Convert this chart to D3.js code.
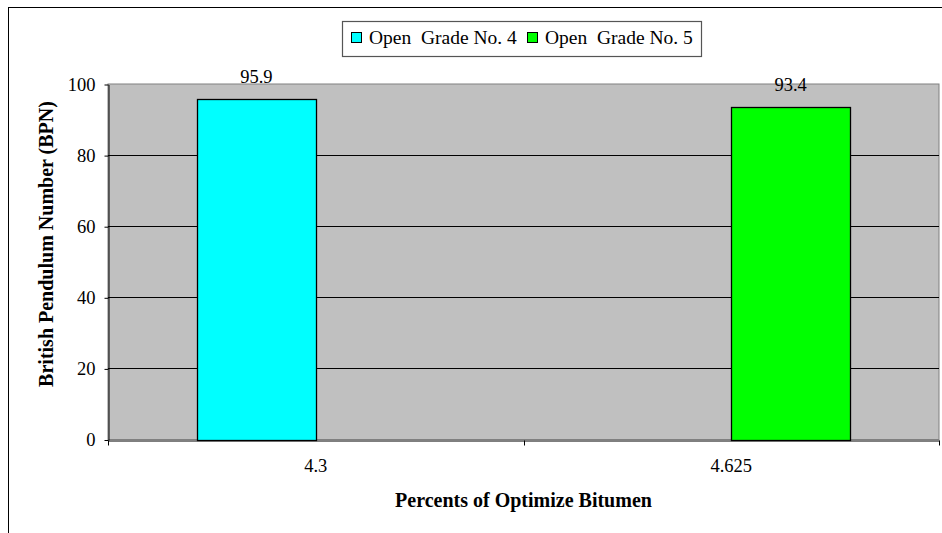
<!DOCTYPE html>
<html>
<head>
<meta charset="utf-8">
<script src="https://cdn.jsdelivr.net/npm/d3@7"></script>
<style>
  body { margin: 0; background: #fff; }
  svg { display: block; }
</style>
</head>
<body>
<div id="chart-area"></div>
<script>
// chart data
var categories = ["4.3", "4.625"];
var seriesNames = ["Open  Grade No. 4", "Open  Grade No. 5"];
var grade4 = [95.9, null];
var grade5 = [null, 93.4];
var seriesColors = ["#00ffff", "#00ff00"];
var yTicks = [0, 20, 40, 60, 80, 100];

var width = 942,
    height = 533;

var serifFont = "'Liberation Serif'";

var plot = { left: 108, right: 939, top: 84, bottom: 439.5 };

var svg = d3.select("#chart-area").append("svg")
    .attr("width", width)
    .attr("height", height);

// outer frame (runs off the right and bottom edges)
svg.append("rect")
    .attr("x", 8.5).attr("y", 7.5)
    .attr("width", 960).attr("height", 560)
    .attr("fill", "#fff")
    .attr("stroke", "#000")
    .attr("stroke-width", 1);

var x0 = d3.scaleBand()
    .domain(categories)
    .range([plot.left, plot.right])
    .padding(0);

var x1 = d3.scaleBand()
    .domain(seriesNames)
    .range([0, x0.bandwidth()])
    .paddingInner(0)
    .paddingOuter(0.75);

var y = d3.scaleLinear()
    .domain([0, 100])
    .range([plot.bottom, plot.top]);

// plot area
svg.append("rect")
    .attr("x", plot.left).attr("y", y(100))
    .attr("width", plot.right - plot.left)
    .attr("height", y(0) - y(100))
    .attr("fill", "#c0c0c0")
    .attr("stroke", "#808080")
    .attr("stroke-width", 1);

// gridlines
svg.selectAll("line.grid")
    .data(yTicks.filter(function(d){ return d > 0 && d < 100; }))
    .enter()
    .append("line")
    .attr("class", "grid")
    .attr("x1", plot.left).attr("x2", plot.right)
    .attr("y1", function(d){ return Math.round(y(d)) + 0.5; })
    .attr("y2", function(d){ return Math.round(y(d)) + 0.5; })
    .attr("stroke", "#000")
    .attr("stroke-width", 1);

// bars
var rows = [];
categories.forEach(function(c, i) {
    [grade4, grade5].forEach(function(s, j) {
        if (s[i] != null) rows.push({ cat: c, series: seriesNames[j], value: s[i], color: seriesColors[j] });
    });
});

svg.selectAll("rect.bar")
    .data(rows)
    .enter()
    .append("rect")
    .attr("class", "bar")
    .attr("x", function(d){ return Math.round(x0(d.cat) + x1(d.series)) + 0.5; })
    .attr("y", function(d){ return Math.round(y(d.value)) + 0.5; })
    .attr("width", Math.round(x1.bandwidth()))
    .attr("height", function(d){ return Math.round(y(0)) - Math.round(y(d.value)); })
    .attr("fill", function(d){ return d.color; })
    .attr("stroke", "#000")
    .attr("stroke-width", 1.3);

// value labels
svg.selectAll("text.value")
    .data(rows)
    .enter()
    .append("text")
    .attr("class", "value")
    .attr("x", function(d){ return x0(d.cat) + x1(d.series) + x1.bandwidth() / 2; })
    .attr("y", function(d){ return y(d.value) - 16; })
    .attr("text-anchor", "middle")
    .style("font-size", "18.5px")
    .text(function(d){ return d.value; });

// y axis
var yAxis = d3.axisLeft(y)
    .tickValues(yTicks)
    .tickSize(4)
    .tickPadding(9)
    .tickSizeOuter(0);

var gy = svg.append("g")
    .attr("class", "axis y-axis")
    .attr("transform", "translate(" + (plot.left + 0.5) + ",0.5)")
    .call(yAxis);
gy.selectAll(".tick line").attr("stroke", "#000");

// x axis: labels at category centres, ticks at category boundaries
var xAxis = d3.axisBottom(x0)
    .tickSize(0)
    .tickPadding(18)
    .tickSizeOuter(0);

var gx = svg.append("g")
    .attr("class", "axis x-axis")
    .attr("transform", "translate(0," + (Math.round(plot.bottom) + 0.5) + ")")
    .call(xAxis);

var bounds = categories.map(function(c){ return x0(c); }).concat([plot.right]);
gx.selectAll("line.bound")
    .data(bounds)
    .enter()
    .append("line")
    .attr("class", "bound")
    .attr("x1", function(d){ return Math.round(d) + 0.5; })
    .attr("x2", function(d){ return Math.round(d) + 0.5; })
    .attr("y1", 0).attr("y2", 5)
    .attr("stroke", "#000");

[gx, gy].forEach(function(g) {
    g.attr("font-family", null).attr("font-size", null);
    g.select(".domain").attr("stroke", "#000");
    g.selectAll("text")
        .style("font-size", "18.5px")
        .attr("fill", "#000");
});

// axis titles
svg.append("text")
    .attr("x", (plot.left + plot.right) / 2)
    .attr("y", 507)
    .attr("text-anchor", "middle")
    .style("font-size", "20px")
    .style("font-weight", "bold")
    .text("Percents of Optimize Bitumen");

svg.append("text")
    .attr("transform", "translate(53," + 244 + ") rotate(-90)")
    .attr("text-anchor", "middle")
    .style("font-size", "20px")
    .style("font-weight", "bold")
    .text("British Pendulum Number (BPN)");

// legend
var legend = svg.append("g");
legend.append("rect")
    .attr("x", 342.5).attr("y", 21.5)
    .attr("width", 359).attr("height", 35)
    .attr("fill", "#fff")
    .attr("stroke", "#555")
    .attr("stroke-width", 1.2);

var legendX = [351, 527];
var items = legend.selectAll("g.item")
    .data(seriesNames)
    .enter()
    .append("g")
    .attr("class", "item")
    .attr("transform", function(d, i){ return "translate(" + legendX[i] + ",0)"; });

items.append("rect")
    .attr("x", 0.5).attr("y", 32.5)
    .attr("width", 10).attr("height", 10)
    .attr("fill", function(d, i){ return seriesColors[i]; })
    .attr("stroke", "#000");

items.append("text")
    .attr("x", 18)
    .attr("y", 44)
    .style("font-size", "19.5px")
    .style("white-space", "pre")
    .text(function(d){ return d; });

// every label in the serif face
svg.selectAll("text").style("font-family", serifFont);
</script>
</body>
</html>
